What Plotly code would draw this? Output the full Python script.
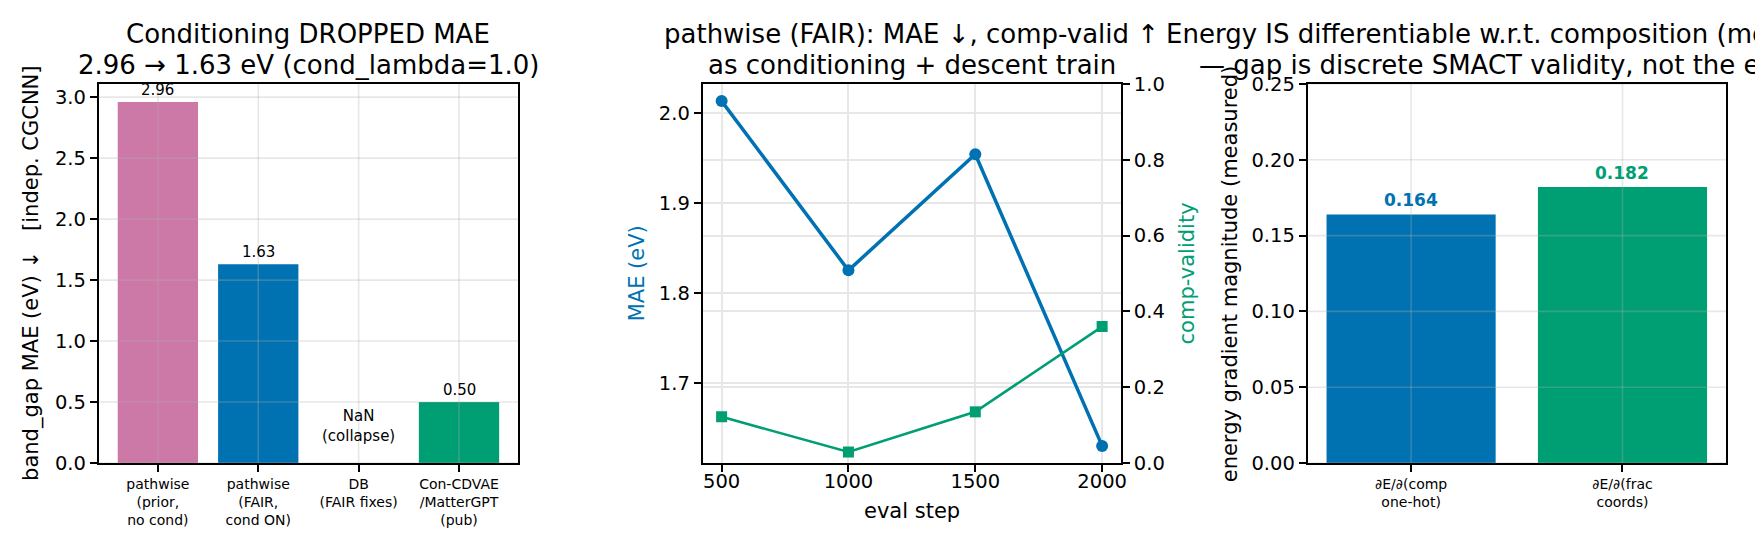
import plotly.graph_objects as go

W, H = 1755, 546
FONT = "DejaVu Sans"
BLUE = "#0072B2"
GREEN = "#009E73"
PINK = "#CC79A7"

# ---------------- data ----------------
p1_categories = ["pathwise<br>(prior,<br>no cond)", "pathwise<br>(FAIR,<br>cond ON)",
                 "DB<br>(FAIR fixes)", "Con-CDVAE<br>/MatterGPT<br>(pub)"]
p1_mae = [2.96, 1.63, None, 0.50]
p1_colors = [PINK, BLUE, "#999999", GREEN]
p1_yticks = [0.0, 0.5, 1.0, 1.5, 2.0, 2.5, 3.0]

p2_steps = [500, 1000, 1500, 2000]
p2_mae = [2.013, 1.825, 1.954, 1.630]
p2_compvalid = [0.122, 0.029, 0.135, 0.360]
p2_mae_ticks = [1.7, 1.8, 1.9, 2.0]
p2_cv_ticks = [0.0, 0.2, 0.4, 0.6, 0.8, 1.0]

p3_categories = ["∂E/∂(comp<br>one-hot)", "∂E/∂(frac<br>coords)"]
p3_grad = [0.164, 0.182]
p3_colors = [BLUE, GREEN]
p3_yticks = [0.0, 0.05, 0.10, 0.15, 0.20, 0.25]

# ---------------- layout geometry ----------------
TOP, BOT = 84, 463
PH = BOT - TOP
def px_y(y):
    return (BOT - y) / PH

fig = go.Figure()

fig.add_trace(go.Bar(x=p1_categories, y=p1_mae, marker=dict(color=p1_colors, line=dict(width=0)),
                     width=0.8, xaxis="x", yaxis="y", showlegend=False))
fig.add_trace(go.Scatter(x=p2_steps, y=p2_mae, mode="lines+markers",
                         line=dict(color=BLUE, width=3.5),
                         marker=dict(symbol="circle", size=12, color=BLUE),
                         xaxis="x2", yaxis="y2", showlegend=False))
fig.add_trace(go.Scatter(x=p2_steps, y=p2_compvalid, mode="lines+markers",
                         line=dict(color=GREEN, width=2.6),
                         marker=dict(symbol="square", size=11, color=GREEN),
                         xaxis="x2", yaxis="y3", showlegend=False))
fig.add_trace(go.Bar(x=p3_categories, y=p3_grad, marker=dict(color=p3_colors, line=dict(width=0)),
                     width=0.8, xaxis="x3", yaxis="y4", showlegend=False))

LW = 1.6
GRID = "#e7e7e7"
def axis_common(**kw):
    d = dict(showline=True, linecolor="black", linewidth=LW, mirror=True,
             ticks="outside", ticklen=7, tickwidth=LW, tickcolor="black",
             zeroline=False, showgrid=False,
             tickfont=dict(family=FONT, size=19.5, color="black"))
    d.update(kw)
    return d

fig.update_layout(
    width=W, height=H,
    margin=dict(l=0, r=0, t=TOP, b=H - BOT),
    paper_bgcolor="white", plot_bgcolor="white",
    font=dict(family=FONT, color="black"),
    xaxis=axis_common(domain=[99 / W, 520 / W], anchor="y", type="category",
                      range=[-0.59, 3.59], tickfont=dict(family=FONT, size=14, color="black")),
    yaxis=axis_common(domain=[0, 1], anchor="x", range=[0, 3.108],
                      tickvals=p1_yticks, tickformat=".1f"),
    xaxis2=axis_common(domain=[705 / W, 1125 / W], anchor="y2", range=[425, 2075],
                       tickvals=p2_steps, showgrid=True, gridcolor=GRID, gridwidth=LW,
                       ticklabelstandoff=-7),
    yaxis2=axis_common(domain=[0, 1], anchor="x2", range=[1.611, 2.032],
                       tickvals=p2_mae_ticks, tickformat=".1f",
                       showgrid=True, gridcolor=GRID, gridwidth=LW),
    yaxis3=axis_common(overlaying="y2", side="right", anchor="x2", range=[0, 1],
                       tickvals=p2_cv_ticks, tickformat=".1f", mirror=False,
                       showgrid=True, gridcolor=GRID, gridwidth=LW),
    xaxis3=axis_common(domain=[1312 / W, 1732 / W], anchor="y4", type="category",
                       range=[-0.49, 1.49], tickfont=dict(family=FONT, size=14, color="black")),
    yaxis4=axis_common(domain=[0, 1], anchor="x3", range=[0, 0.25],
                       tickvals=p3_yticks, tickformat=".2f"),
)

# grid lines drawn above bars (as in matplotlib)
shapes = []
GRID_A = "rgba(176,176,176,0.3)"
for xr, yr, nc, yt in [("x", "y", len(p1_categories), p1_yticks),
                       ("x3", "y4", len(p3_categories), p3_yticks)]:
    for v in yt:
        shapes.append(dict(type="line", xref=xr + " domain", yref=yr, x0=0, x1=1, y0=v, y1=v,
                           line=dict(color=GRID_A, width=LW), layer="above"))
    for i in range(nc):
        shapes.append(dict(type="line", xref=xr, yref=yr + " domain", x0=i, x1=i, y0=0, y1=1,
                           line=dict(color=GRID_A, width=LW), layer="above"))
fig.update_layout(shapes=shapes)

ann = []
# bar labels panel 1
for c, v in zip(p1_categories, p1_mae):
    if v is None:
        ann.append(dict(x=c, y=0.30, xref="x", yref="y", text="NaN<br>(collapse)",
                        showarrow=False, xanchor="center", yanchor="middle",
                        font=dict(family=FONT, size=15, color="black")))
    else:
        ann.append(dict(x=c, y=v, xref="x", yref="y", text=f"{v:.2f}", showarrow=False,
                        xanchor="center", yanchor="middle", yshift=12,
                        font=dict(family=FONT, size=15, color="black")))
# bar labels panel 3
for c, v, col in zip(p3_categories, p3_grad, p3_colors):
    ann.append(dict(x=c, y=v, xref="x3", yref="y4", text=f"<b>{v:.3f}</b>", showarrow=False,
                    xanchor="center", yanchor="middle", yshift=14.5,
                    font=dict(family=FONT, size=17, color=col)))

# titles
titles = [
    (309.5, "Conditioning DROPPED MAE", "2.96 → 1.63 eV (cond_lambda=1.0)"),
    (915, "pathwise (FAIR): MAE ↓, comp-valid ↑", "as conditioning + descent train"),
    (1522, "Energy IS differentiable w.r.t. composition (measured)",
     "— gap is discrete SMACT validity, not the energy"),
]
for cx, l1, l2 in titles:
    for yy, t in [(33.8, l1), (64.5, l2)]:
        ann.append(dict(x=cx / W, y=px_y(yy), xref="paper", yref="paper", text=t,
                        showarrow=False, xanchor="center", yanchor="middle",
                        font=dict(family=FONT, size=26, color="black")))

# axis titles
def ylab(xc, text, color="black"):
    return dict(x=xc / W, y=0.5, xref="paper", yref="paper", text=text, textangle=-90,
                showarrow=False, xanchor="center", yanchor="middle",
                font=dict(family=FONT, size=21, color=color))

ann.append(ylab(31.5, "band_gap MAE (eV) ↓\u00a0\u00a0\u00a0[indep. CGCNN]"))
ann.append(ylab(639, "MAE (eV)", BLUE))
ann.append(ylab(1191, "comp-validity", GREEN))
ann.append(ylab(1234, "energy gradient magnitude (measured)"))
ann.append(dict(x=915 / W, y=px_y(511), xref="paper", yref="paper", text="eval step",
                showarrow=False, xanchor="center", yanchor="middle",
                font=dict(family=FONT, size=21, color="black")))

fig.update_layout(annotations=ann)
fig.write_html("out.html")
